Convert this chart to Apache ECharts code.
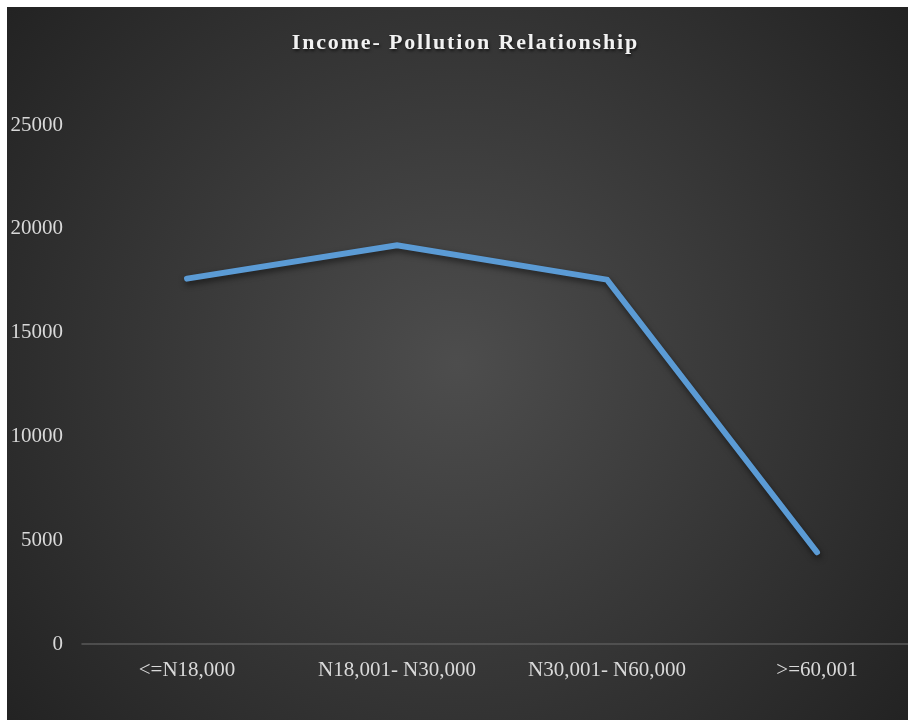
<!DOCTYPE html>
<html>
<head>
<meta charset="utf-8">
<script src="https://cdn.jsdelivr.net/npm/echarts@6/dist/echarts.min.js"></script>
<style>
html,body{margin:0;padding:0;background:#ffffff;}
#wrap{position:relative;width:908px;height:720px;background:#ffffff;overflow:hidden;}
#chart{position:absolute;left:7px;top:7px;width:915px;height:713px;}
</style>
</head>
<body>
<div id="wrap"><div id="chart"></div></div>
<script>
var titleText = 'Income- Pollution Relationship';
var categories = ['<=N18,000', 'N18,001- N30,000', 'N30,001- N60,000', '>=60,001'];
var pollution = [17600, 19200, 17550, 4420];
var yTicks = [0, 5000, 10000, 15000, 20000, 25000];

var chart = echarts.init(document.getElementById('chart'), null, {renderer: 'canvas'});
var serif = '"Liberation Serif", "DejaVu Serif", serif';
chart.setOption({
  animation: false,
  backgroundColor: {
    type: 'radial', x: 0.492, y: 0.5, r: 0.8,
    colorStops: [
      {offset: 0, color: '#4d4d4d'},
      {offset: 1, color: '#232323'}
    ]
  },
  title: {
    text: titleText.split('').join('\u200A'),
    left: 'center',
    top: 20,
    textStyle: {
      color: '#f2f2f2', fontFamily: serif, fontWeight: 'bold', fontSize: 22,
      textShadowColor: 'rgba(0,0,0,0.6)', textShadowBlur: 3, textShadowOffsetX: 1, textShadowOffsetY: 2
    }
  },
  grid: {left: 75, top: 118, width: 840, height: 519, containLabel: false},
  xAxis: {
    type: 'category',
    data: categories,
    boundaryGap: true,
    axisLine: {show: true, lineStyle: {color: '#5a5a5a', width: 1.5}},
    axisTick: {show: false},
    axisLabel: {color: '#d9d9d9', fontFamily: serif, fontSize: 21, margin: 16}
  },
  yAxis: {
    type: 'value',
    min: yTicks[0],
    max: yTicks[yTicks.length - 1],
    interval: yTicks[1] - yTicks[0],
    axisLine: {show: false},
    axisTick: {show: false},
    splitLine: {show: false},
    axisLabel: {color: '#d9d9d9', fontFamily: serif, fontSize: 21, margin: 19,
      formatter: function (v) { return String(v); }}
  },
  series: [{
    type: 'line',
    data: pollution,
    symbol: 'none',
    lineStyle: {
      color: '#5b9bd5', width: 6, cap: 'round', join: 'miter',
      shadowColor: 'rgba(0,0,0,0.55)', shadowBlur: 6, shadowOffsetX: 1, shadowOffsetY: 3
    },
    itemStyle: {color: '#5b9bd5'}
  }]
});
</script>
</body>
</html>
